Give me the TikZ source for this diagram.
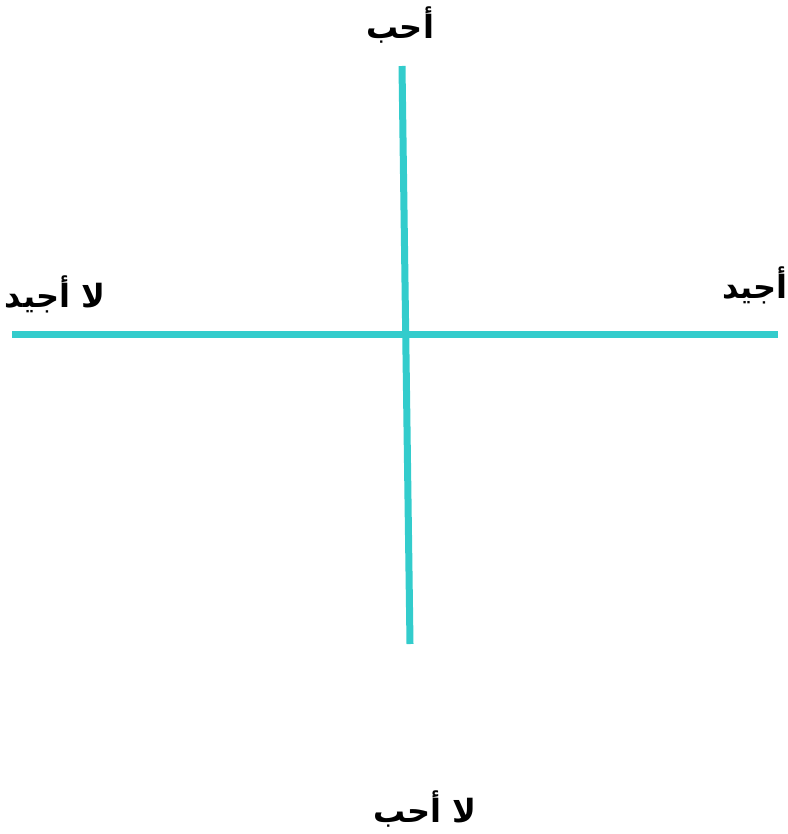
\documentclass[tikz,border=0pt]{standalone}
\usepackage{fontspec}
\newfontfamily\arabicfont[Script=Arabic]{DejaVu Sans}
\TeXXeTstate=1
\definecolor{axis}{RGB}{51,204,204}
\begin{document}
\begin{tikzpicture}[x=1pt,y=-1pt,
  axisline/.style={draw=axis,line width=7pt},
  lbl/.style={font=\arabicfont\bfseries\fontsize{32}{36}\selectfont,inner sep=0pt,text=black}]
\useasboundingbox (0,0) rectangle (787,834);
\coordinate (t) at (402,66);
\coordinate (b) at (410,644);
\coordinate (l) at (12,334);
\coordinate (r) at (778,334);
\draw[axisline] (t) -- (b);
\draw[axisline] (l) -- (r);
\node[lbl] (top) at (400,25) {\beginR أحب\endR};
\node[lbl] (left) at (55,294) {\beginR لا أجيد\endR};
\node[lbl] (right) at (755,285) {\beginR أجيد\endR};
\node[lbl] (bottom) at (425,809) {\beginR لا أحب\endR};
\end{tikzpicture}
\end{document}
